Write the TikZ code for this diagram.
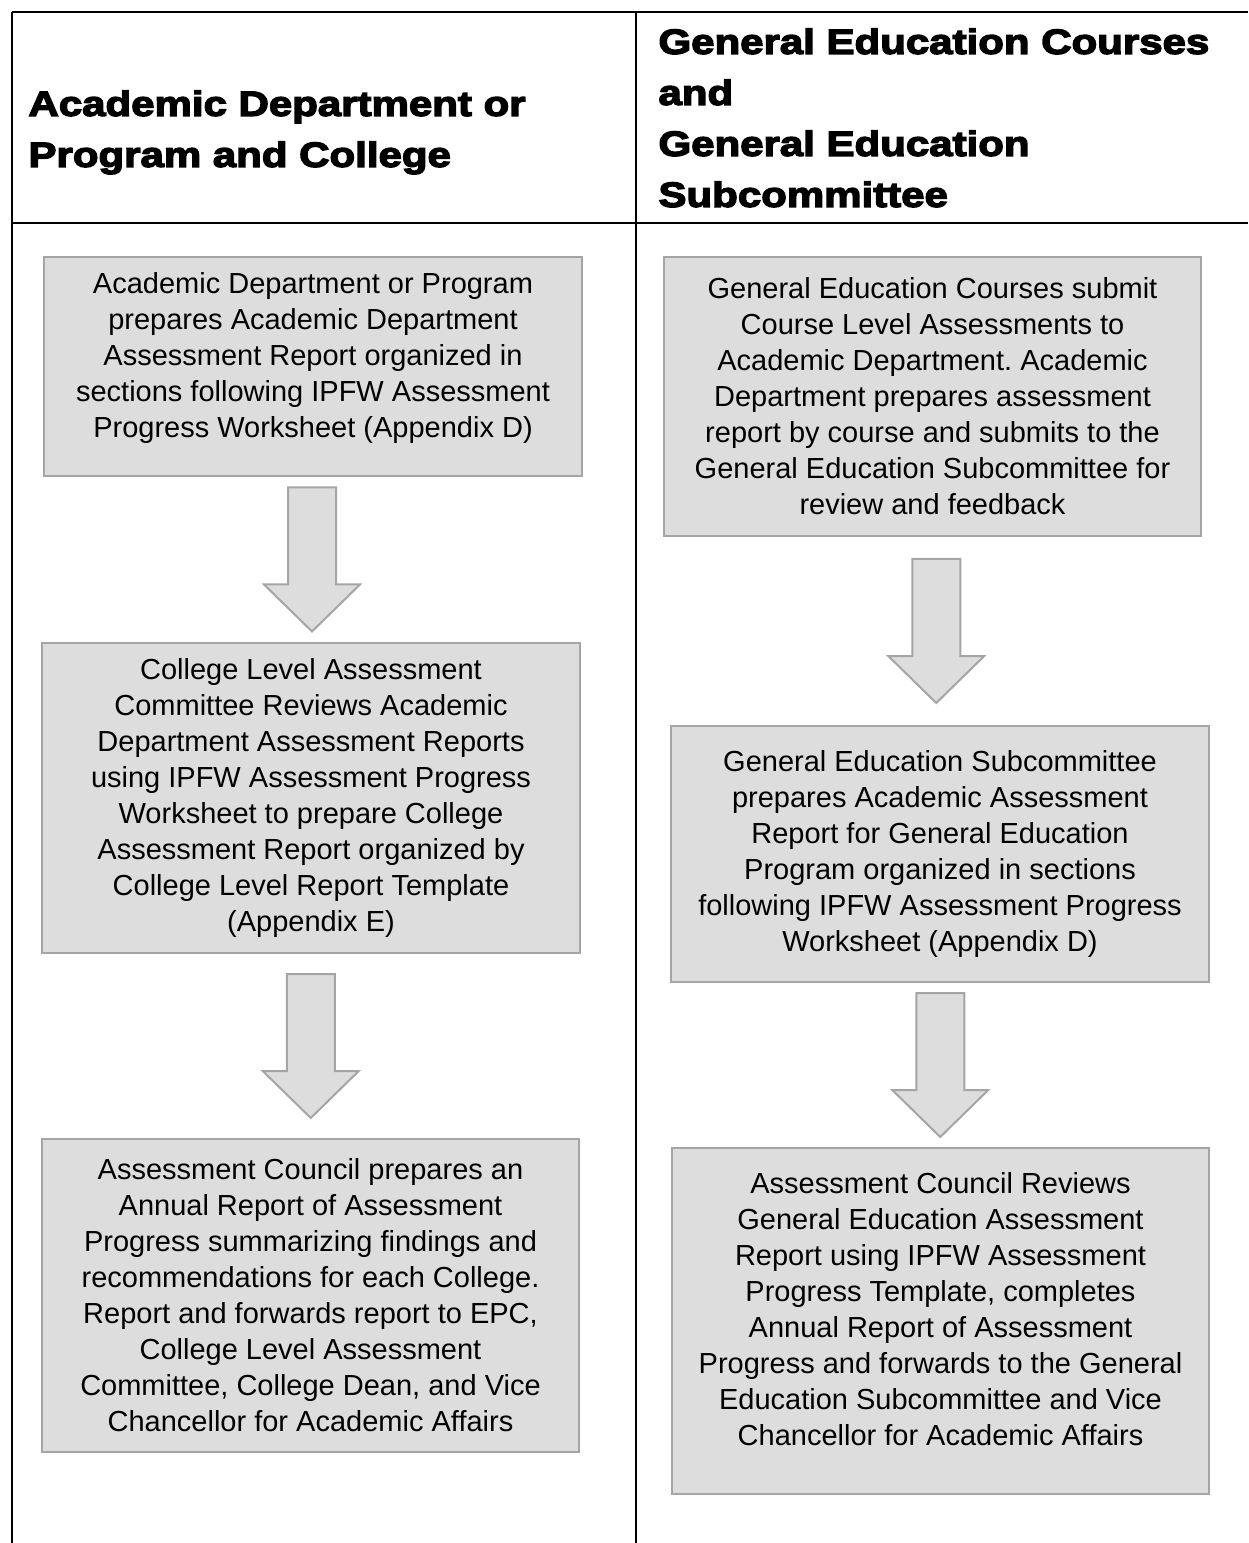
\documentclass[tikz,border=0pt]{standalone}
\usepackage{fontspec}
\setmainfont{Liberation Sans}
\newfontfamily\headfont[FakeStretch=1.2,FakeBold=4]{Liberation Sans Bold}
\usetikzlibrary{calc}
\definecolor{boxfill}{HTML}{DDDDDD}
\definecolor{boxline}{HTML}{A5A5A5}
\newcommand{\px}{0.4pt}
\frenchspacing

\tikzset{
	stepbox/.style={draw=boxline, fill=boxfill, line width=0.8pt, align=center, inner sep=0pt,
		font=\fontsize{11.6pt}{14.4pt}\selectfont},
	headtext/.style={anchor=north west, align=left, inner sep=0pt,
		font=\headfont\fontsize{14pt}{20.4pt}\selectfont},
	tableline/.style={line width=0.8pt, black},
	downarrow/.pic={
		\draw[draw=boxline, fill=boxfill, line width=0.8pt] (-24,-72) -- (24,-72) -- (24,25) -- (48,25) -- (0,72) -- (-48,25) -- (-24,25) -- cycle;
	}
}

\begin{document}
\begin{tikzpicture}[x=0.4pt, y=-0.4pt]
	\useasboundingbox (0,0) rectangle (1248,1543);

	% table
	\draw[tableline] (12,12) -- (1248,12);
	\draw[tableline] (12,223) -- (1248,223);
	\draw[tableline] (12,12) -- (12,1543);
	\draw[tableline] (636,12) -- (636,1543);

	\node[headtext] (lhead) at (28,90)  {Academic Department or\\Program and College};
	\node[headtext] (rhead) at (658,28) {General Education Courses\\and\\General Education\\Subcommittee};

	% left column
	\node[stepbox, minimum width=538*\px, minimum height=219*\px, text depth=8.9pt] (l1) at (313,366.5)
		{Academic Department or Program\\prepares Academic Department\\Assessment Report organized in\\sections following IPFW Assessment\\Progress Worksheet (Appendix D)};
	\node[stepbox, minimum width=538*\px, minimum height=310*\px] (l2) at (311,798)
		{College Level Assessment\\Committee Reviews Academic\\Department Assessment Reports\\using IPFW Assessment Progress\\Worksheet to prepare College\\Assessment Report organized by\\College Level Report Template\\(Appendix E)};
	\node[stepbox, minimum width=537*\px, minimum height=313*\px] (l3) at (310.5,1295.5)
		{Assessment Council prepares an\\Annual Report of Assessment\\Progress summarizing findings and\\recommendations for each College.\\Report and forwards report to EPC,\\College Level Assessment\\Committee, College Dean, and Vice\\Chancellor for Academic Affairs};

	% right column
	\node[stepbox, minimum width=537*\px, minimum height=279*\px] (r1) at (932.5,396.5)
		{General Education Courses submit\\Course Level Assessments to\\Academic Department. Academic\\Department prepares assessment\\report by course and submits to the\\General Education Subcommittee for\\review and feedback};
	\node[stepbox, minimum width=538*\px, minimum height=256*\px] (r2) at (940,854)
		{General Education Subcommittee\\prepares Academic Assessment\\Report for General Education\\Program organized in sections\\following IPFW Assessment Progress\\Worksheet (Appendix D)};
	\node[stepbox, minimum width=537*\px, minimum height=346*\px, text depth=9.6pt] (r3) at (940.5,1321)
		{Assessment Council Reviews\\General Education Assessment\\Report using IPFW Assessment\\Progress Template, completes\\Annual Report of Assessment\\Progress and forwards to the General\\Education Subcommittee and Vice\\Chancellor for Academic Affairs};

	% block arrows
	\path ($(l1.south)!0.5!(l2.north)$) pic {downarrow};
	\path ($(l2.south)!0.5!(l3.north)$) pic {downarrow};
	\path ($(r1.south)!0.5!(r2.north)$) pic {downarrow};
	\path ($(r2.south)!0.5!(r3.north)$) pic {downarrow};

\end{tikzpicture}
\end{document}
